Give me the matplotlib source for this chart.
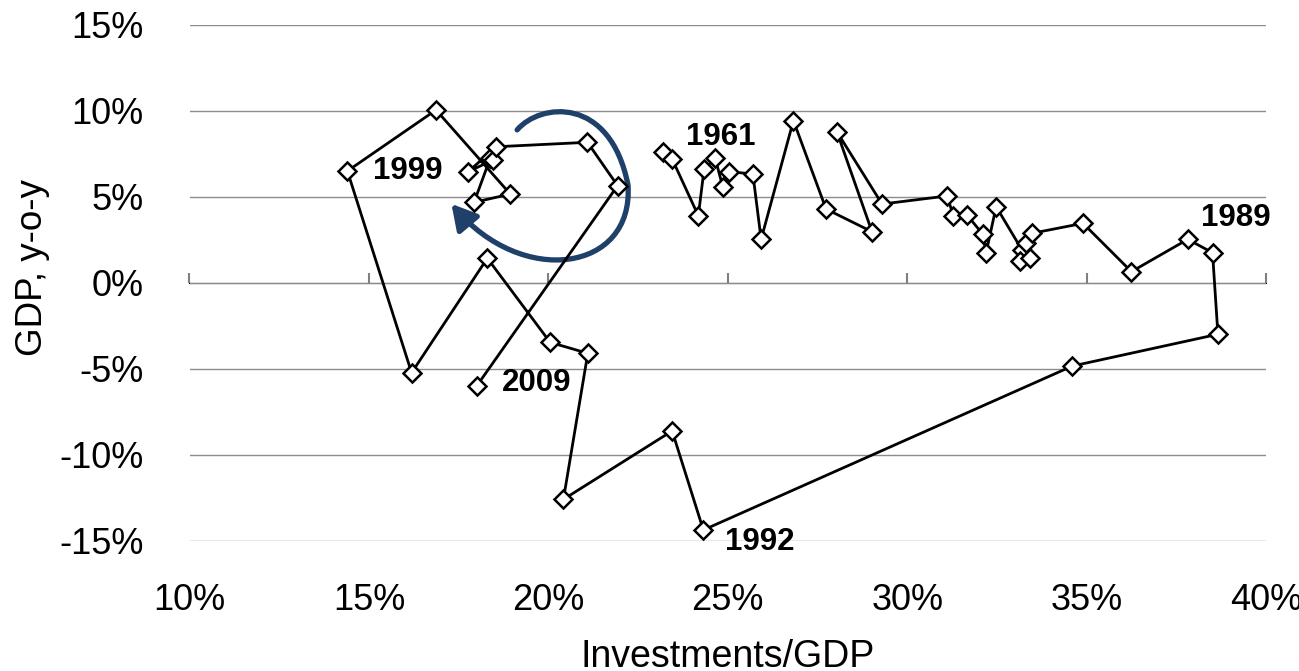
import matplotlib
matplotlib.use("Agg")
import matplotlib.pyplot as plt
from matplotlib.path import Path
from matplotlib.patches import FancyArrowPatch

plt.rcParams["font.family"] = ["Liberation Sans", "DejaVu Sans"]

# investments / GDP (%) and GDP growth y-o-y (%), 1961..2009
YEARS = list(range(1961, 2010))
INVEST = [23.20, 23.45, 24.18, 24.34, 24.65, 24.86, 25.04, 25.70, 25.93, 26.83,
          27.74, 29.02, 28.04, 29.30, 31.11, 31.29, 31.67, 32.11, 32.20, 32.48,
          33.20, 33.15, 33.43, 33.32, 33.48, 34.90, 36.25, 37.82, 38.51,
          38.66, 34.60, 24.32, 23.45, 20.42, 21.10, 20.05, 18.30, 16.19, 14.40,
          16.87, 18.94, 17.93, 18.38, 18.45, 17.77, 18.54, 21.09, 21.93, 18.01]
GDP = [7.60, 7.21, 3.91, 6.61, 7.25, 5.60, 6.47, 6.34, 2.54, 9.44,
       4.30, 2.98, 8.80, 4.59, 5.06, 3.91, 3.95, 2.83, 1.76, 4.44,
       1.92, 1.30, 1.44, 2.34, 2.89, 3.47, 0.66, 2.54, 1.76,
       -2.98, -4.83, -14.36, -8.60, -12.58, -4.09, -3.45, 1.44, -5.22, 6.51,
       10.06, 5.17, 4.69, 7.25, 7.15, 6.47, 7.92, 8.18, 5.66, -5.97]

LABELED_YEARS = [1961, 1989, 1992, 1999, 2009]
X_TICKS = [10, 15, 20, 25, 30, 35, 40]
Y_TICKS = [-15, -10, -5, 0, 5, 10, 15]

# hand-drawn arrow (data coords): start, bezier controls, tip
ARROW_PTS = [(19.13, 8.90), (19.77, 10.47), (21.72, 10.93), (22.22, 5.70),
             (22.39, 0.64), (19.27, -0.29), (17.30, 4.60)]

W, H = 1299, 671
fig = plt.figure(figsize=(W / 100, H / 100), dpi=100)
ax = fig.add_axes([189.5 / W, 130 / H, (1266 - 189.5) / W, (646 - 130) / H])

ax.plot(INVEST, GDP, color="black", lw=2, marker="D", ms=9.5,
        mfc="white", mec="black", mew=1.8, zorder=3, clip_on=False)

# year labels
offsets = {1961: (23, 15), 1999: (26, 0), 2009: (25, 3),
           1992: (22, -12), 1989: (-12, 35)}
for yr in LABELED_YEARS:
    i = YEARS.index(yr)
    ax.annotate(str(yr), (INVEST[i], GDP[i]), xytext=offsets[yr],
                textcoords="offset pixels", ha="left", va="center",
                fontsize=22.5, fontweight="bold", zorder=4)

codes = [Path.MOVETO] + [Path.CURVE4] * 6
arrow = FancyArrowPatch(path=Path(ARROW_PTS, codes),
                        arrowstyle="-|>,head_length=0.75,head_width=0.42",
                        mutation_scale=20, color="#1F4068", lw=3.8,
                        transform=ax.transData, zorder=2.5)
ax.add_patch(arrow)

ax.set_xlim(10, 40)
ax.set_ylim(-15, 15)
ax.set_xticks(X_TICKS)
ax.set_yticks(Y_TICKS)
ax.set_xticklabels([f"{v}%" for v in X_TICKS])
ax.set_yticklabels([f"{v}%" for v in Y_TICKS])
ax.tick_params(axis="both", length=0, labelsize=26)
ax.tick_params(axis="x", pad=30)
ax.tick_params(axis="y", pad=33)
for s in ax.spines.values():
    s.set_visible(False)
ax.grid(axis="y", color="#8c8c8c", lw=1)
ax.set_axisbelow(True)

# zero line with tick marks
sec = ax.secondary_xaxis(0.5)
sec.set_xticks(X_TICKS)
sec.set_xticklabels([])
sec.tick_params(length=7, width=1.5, color="#808080", direction="out")
sec.spines["bottom"].set_color("#808080")
sec.spines["bottom"].set_linewidth(1.8)

ax.set_xlabel("Investments/GDP", fontsize=27)
ax.set_ylabel("GDP, y-o-y", fontsize=26.5)
ax.xaxis.set_label_coords(0.5, -0.19)
ax.yaxis.set_label_coords(-0.13, 0.53)

fig.savefig("out.png", dpi=100)
